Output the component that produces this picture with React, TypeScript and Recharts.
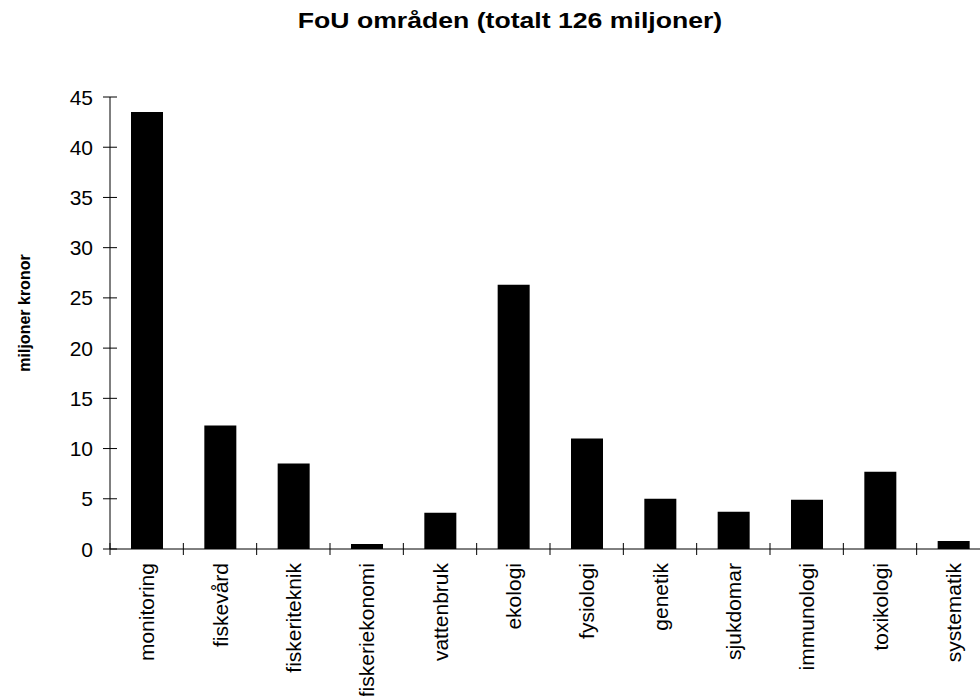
import React from "react";
import { BarChart, Bar, XAxis, YAxis } from "recharts";

const categories = [
  "monitoring",
  "fiskevård",
  "fiskeriteknik",
  "fiskeriekonomi",
  "vattenbruk",
  "ekologi",
  "fysiologi",
  "genetik",
  "sjukdomar",
  "immunologi",
  "toxikologi",
  "systematik",
];
const values = [43.5, 12.3, 8.5, 0.5, 3.6, 26.3, 11.0, 5.0, 3.7, 4.9, 7.7, 0.8];
const yTicks = [0, 5, 10, 15, 20, 25, 30, 35, 40, 45];

const title = "FoU områden (totalt 126 miljoner)";
const yLabel = "miljoner kronor";

const data = categories.map((name, i) => ({ name, value: values[i] }));

const FONT = "'Liberation Sans', Arial, Helvetica, sans-serif";

const YTick = (props: any) => {
  const { x, y, payload } = props;
  const axisX = x + 17;
  return (
    <g>
      <line x1={axisX - 7} x2={axisX + 7} y1={y} y2={y} stroke="#000" strokeWidth={1} />
      <text
        x={x}
        y={y}
        dy="0.36em"
        textAnchor="end"
        fontSize={21}
        fontFamily={FONT}
        fill="#000"
      >
        {payload.value}
      </text>
    </g>
  );
};

const XTick = (props: any) => {
  const { x, y, payload, index } = props;
  const half = payload.offset || 36.67;
  const axisY = y - 14;
  return (
    <g>
      {index === 0 && (
        <line x1={x - half} x2={x - half} y1={axisY - 6} y2={axisY + 6} stroke="#000" />
      )}
      <line x1={x + half} x2={x + half} y1={axisY - 6} y2={axisY + 6} stroke="#000" />
      <text
        x={x}
        y={y}
        dy="0.36em"
        textAnchor="end"
        transform={`rotate(-90, ${x}, ${y})`}
        fontSize={21}
        fontFamily={FONT}
        fill="#000"
      >
        {payload.value}
      </text>
    </g>
  );
};

export default function App() {
  return (
    <div
      style={{
        position: "absolute",
        left: 0,
        top: 0,
        width: 980,
        height: 696,
        overflow: "hidden",
        background: "#fff",
        fontFamily: FONT,
      }}
    >
      <div
        style={{
          position: "absolute",
          left: 40,
          top: 10,
          width: 940,
          textAlign: "center",
          fontSize: 22,
          lineHeight: "22px",
          fontWeight: "bold",
          transform: "scaleX(1.21)",
          transformOrigin: "470px 11px",
        }}
      >
        {title}
      </div>
      <div
        style={{
          position: "absolute",
          left: -75,
          top: 303,
          width: 200,
          height: 20,
          lineHeight: "20px",
          textAlign: "center",
          fontSize: 16,
          fontWeight: "bold",
          transform: "rotate(-90deg)",
        }}
      >
        {yLabel}
      </div>
      <BarChart
        width={980}
        height={696}
        data={data}
        margin={{ top: 97, right: -10, bottom: 7, left: 50 }}
        barCategoryGap={0}
      >
        <XAxis
          dataKey="name"
          interval={0}
          height={140}
          stroke="#000"
          tickLine={false}
          tickSize={0}
          tickMargin={14}
          tick={<XTick />}
        />
        <YAxis
          width={60}
          domain={[0, 45]}
          ticks={yTicks}
          stroke="#000"
          tickLine={false}
          tickSize={7}
          tickMargin={10}
          tick={<YTick />}
        />
        <Bar dataKey="value" fill="#000" barSize={32} isAnimationActive={false} />
      </BarChart>
    </div>
  );
}
